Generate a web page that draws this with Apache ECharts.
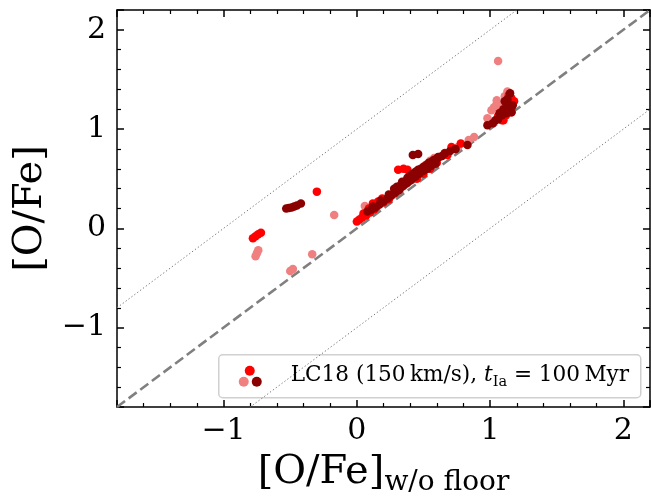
<!DOCTYPE html>
<html>
<head>
<meta charset="utf-8">
<script src="https://cdn.jsdelivr.net/npm/echarts@6/dist/echarts.min.js"></script>
<style>
html,body{margin:0;padding:0;background:#fff}
#main{width:651px;height:502px}
</style>
</head>
<body>
<div id="main"></div>
<script>
// axis extents
var xMin = -1.8, xMax = 2.2;
var yMin = -1.8, yMax = 2.2;
// reference lines y = x + offset
var lineOffsets = [0, 1, -1];

// lightcoral points
var pinkX = [-0.76, -0.75, -0.74, -0.50, -0.48, -0.335, -0.17, 0.06, 0.55, 0.58, 0.76, 0.84, 0.88, 0.98, 1.01, 1.05, 1.05, 1.13, 1.06,
             1.09, 1.11, 1.03];
var pinkY = [-0.28, -0.25, -0.22, -0.43, -0.41, -0.26, 0.135, 0.225, 0.68, 0.71, 0.82, 0.89, 0.92, 1.11, 1.19, 1.26, 1.29, 1.38, 1.685,
             1.22, 1.33, 1.22];

// red points
var redX = [-0.78, -0.76, -0.74, -0.72, -0.30, 0.00, 0.02, 0.04, 0.07, 0.10, 0.13, 0.16, 0.19, 0.22, 0.25, 0.28, 0.31, 0.34, 0.37, 0.40,
            0.31, 0.35, 0.38, 0.46, 0.52, 0.57, 0.62, 0.66, 0.71, 0.78, 1.08, 1.16, 1.16, 1.09, 1.14, 1.16, 1.10,
            0.05, 0.09, 0.12, 0.15, 0.20, 0.24, 0.45, 0.50, 0.55, 0.60, 0.68, 0.74, 1.12, 1.14, 1.18, 1.06];
var redY = [-0.10, -0.08, -0.06, -0.045, 0.37, 0.07, 0.09, 0.11, 0.13, 0.16, 0.19, 0.27, 0.30, 0.29, 0.32, 0.35, 0.38, 0.42, 0.45, 0.48,
            0.59, 0.60, 0.59, 0.56, 0.64, 0.68, 0.72, 0.76, 0.82, 0.855, 1.17, 1.17, 1.31, 1.09, 1.26, 1.21, 1.09,
            0.15, 0.20, 0.25, 0.22, 0.26, 0.29, 0.50, 0.55, 0.60, 0.66, 0.74, 0.80, 1.14, 1.34, 1.28, 1.13];

// darkred points
var darkX = [-0.53, -0.51, -0.49, -0.47, -0.45, -0.42, 0.08, 0.11, 0.14, 0.17, 0.20, 0.23, 0.26, 0.29, 0.32, 0.35, 0.38, 0.41, 0.44, 0.47,
             0.50, 0.53, 0.56, 0.59, 0.30, 0.34, 0.38, 0.42, 0.46, 0.50, 0.54, 0.58, 0.61, 0.66, 0.74, 0.83, 0.42, 0.46,
             0.98, 1.04, 1.06, 1.09, 1.13, 1.11, 1.15, 1.16, 1.12,
             0.12, 0.18, 0.24, 0.28, 0.33, 0.37, 0.40, 0.44, 0.48, 0.52, 0.56, 0.60, 0.64, 0.70,
             1.02, 1.07, 1.10, 1.13, 1.17];
var darkY = [0.20, 0.205, 0.21, 0.22, 0.23, 0.25, 0.17, 0.19, 0.21, 0.24, 0.27, 0.30, 0.33, 0.36, 0.39, 0.43, 0.46, 0.49, 0.52, 0.55,
             0.58, 0.60, 0.63, 0.65, 0.42, 0.47, 0.51, 0.55, 0.59, 0.62, 0.66, 0.69, 0.72, 0.755, 0.80, 0.84, 0.74, 0.75,
             1.04, 1.09, 1.10, 1.14, 1.22, 1.28, 1.36, 1.17, 1.16,
             0.22, 0.28, 0.34, 0.40, 0.44, 0.48, 0.53, 0.57, 0.60, 0.63, 0.67, 0.70, 0.73, 0.78,
             1.06, 1.16, 1.20, 1.30, 1.24];

var fontFam = 'DejaVu Serif';

var zip = function(xs, ys) {
    var out = [];
    for (var i = 0; i < xs.length; i++) {
        out.push([xs[i], ys[i]]);
    }
    return out;
};

var tickLabel = function(v) {
    if (Math.abs(v - Math.round(v)) > 1e-6) return '';
    return String(Math.round(v)).replace('-', '\u2212');
};

var makeAxis = function(min, max, pos, showLabel) {
    return {
        type: 'value',
        position: pos,
        min: min,
        max: max,
        splitNumber: 4,
        splitLine: {show: false},
        axisLine: {onZero: false, lineStyle: {color: '#000', width: 1.5}},
        axisTick: {inside: true, length: 7, lineStyle: {color: '#000', width: 1.5}},
        minorTick: {show: true, splitNumber: 5, length: 4, lineStyle: {color: '#000', width: 1.2}},
        axisLabel: {
            show: showLabel,
            showMinLabel: false,
            showMaxLabel: false,
            margin: 9,
            fontFamily: fontFam,
            fontSize: 30,
            color: '#000',
            formatter: tickLabel
        }
    };
};

var xBottom = makeAxis(xMin, xMax, 'bottom', true);
xBottom.name = '{a|[O/Fe]}{b|w/o floor}';
xBottom.nameLocation = 'middle';
xBottom.nameGap = 42;
xBottom.nameTextStyle = {
    rich: {
        a: {fontFamily: fontFam, fontSize: 40, color: '#000'},
        b: {fontFamily: fontFam, fontSize: 28, color: '#000', padding: [20, 0, 0, 0]}
    }
};
var xTop = makeAxis(xMin, xMax, 'top', false);

var yLeft = makeAxis(yMin, yMax, 'left', true);
yLeft.axisLabel.margin = 11;
yLeft.name = '[O/Fe]';
yLeft.nameLocation = 'middle';
yLeft.nameGap = 66;
yLeft.nameTextStyle = {fontFamily: fontFam, fontSize: 40, color: '#000'};
var yRight = makeAxis(yMin, yMax, 'right', false);

var series = [];
lineOffsets.forEach(function(off) {
    series.push({
        type: 'line',
        symbol: 'none',
        silent: true,
        clip: true,
        z: 1,
        lineStyle: off === 0
            ? {color: '#808080', width: 2.6, type: [10, 4.5]}
            : {color: '#777', width: 1, type: [1.3, 2.3]},
        data: [[xMin, xMin + off], [xMax, xMax + off]]
    });
});

var dots = [
    {x: pinkX, y: pinkY, color: '#f08080'},
    {x: redX, y: redY, color: '#ff0000'},
    {x: darkX, y: darkY, color: '#8b0000'}
];
dots.forEach(function(d) {
    series.push({
        type: 'scatter',
        symbolSize: 8.5,
        z: 3,
        itemStyle: {color: d.color, opacity: 1},
        data: zip(d.x, d.y)
    });
});

var myChart = echarts.init(document.getElementById('main'));
myChart.setOption({
    animation: false,
    backgroundColor: '#fff',
    grid: {left: 117, right: 1, top: 10, bottom: 94},
    xAxis: [xBottom, xTop],
    yAxis: [yLeft, yRight],
    series: series,
    graphic: [{
        type: 'group',
        left: 218,
        top: 354,
        z: 10,
        children: [
            {
                type: 'rect',
                shape: {x: 0, y: 0, width: 422, height: 43, r: 4},
                style: {fill: 'rgba(255,255,255,0.8)', stroke: '#d0d0d0', lineWidth: 1.5}
            },
            {type: 'circle', shape: {cx: 31, cy: 16, r: 5}, style: {fill: '#ff0000'}},
            {type: 'circle', shape: {cx: 25, cy: 27, r: 5}, style: {fill: '#f08080'}},
            {type: 'circle', shape: {cx: 38, cy: 27, r: 5}, style: {fill: '#8b0000'}},
            {
                type: 'text',
                x: 72,
                y: 21,
                style: {
                    text: '{n|LC18 (150\u2009km/s), }{t|t}{s|Ia}{n| = 100\u2009Myr}',
                    verticalAlign: 'middle',
                    rich: {
                        n: {fontFamily: fontFam, fontSize: 21.6, fill: '#000'},
                        t: {fontFamily: fontFam, fontSize: 21.6, fontStyle: 'italic', fill: '#000'},
                        s: {fontFamily: fontFam, fontSize: 14.5, fill: '#000', padding: [12, 0, 0, 0]}
                    }
                }
            }
        ]
    }]
});
</script>
</body>
</html>
